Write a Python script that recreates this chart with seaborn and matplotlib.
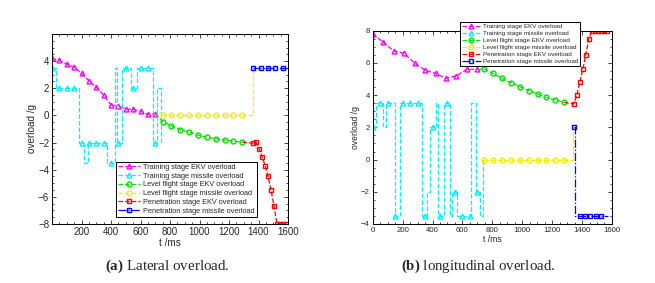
import matplotlib
matplotlib.use("Agg")
import matplotlib.pyplot as plt
from matplotlib.lines import Line2D
from matplotlib.ticker import MultipleLocator
import seaborn as sns

# -------------------------
# (a) lateral overload
# -------------------------
lat_train_ekv_t = [0, 50, 100, 150, 200, 250, 300, 350, 400, 450, 500, 550, 600, 650, 700]
lat_train_ekv = [4.2, 4.05, 3.78, 3.55, 3.1, 2.55, 2.08, 1.5, 0.78, 0.7, 0.48, 0.45, 0.3, 0.08, 0.12]

lat_train_mis_step_t = [0, 27, 181, 219, 242, 373, 427, 443, 472, 536, 574, 687, 714, 740, 745]
lat_train_mis_step = [3.5, 2, -2, -3.5, -2, -3.5, 3.5, -2, 3.5, 2, 3.5, -2, 2, -2, -2]
lat_train_mis_mark_t = [0, 50, 100, 150, 200, 250, 300, 350, 400, 450, 500, 550, 600, 650, 700]
lat_train_mis_mark = [3.5, 2, 2, 2, -2, -2, -2, -2, -3.5, -2, 3.5, 2, 3.5, 3.5, -2]

lat_level_ekv_t = [750, 810, 870, 930, 990, 1050, 1110, 1170, 1230, 1290]
lat_level_ekv = [-0.45, -0.78, -1.04, -1.24, -1.45, -1.6, -1.72, -1.82, -1.9, -1.97]

lat_level_mis_step_t = [745, 1362, 1365]
lat_level_mis_step = [0, 3.5, 3.5]
lat_level_mis_mark_t = [750, 810, 870, 930, 990, 1050, 1110, 1170, 1230, 1290]
lat_level_mis_mark = [0, 0, 0, 0, 0, 0, 0, 0, 0, 0]

lat_pen_ekv_t = [1365, 1385, 1405, 1425, 1445, 1465, 1485, 1505, 1525, 1545, 1565, 1585]
lat_pen_ekv = [-2.05, -1.98, -2.5, -3.05, -3.7, -4.5, -5.5, -6.65, -8, -8, -8, -8]

lat_pen_mis_step_t = [1365, 1590]
lat_pen_mis_step = [3.5, 3.5]
lat_pen_mis_mark_t = [1365, 1415, 1465, 1515, 1565]
lat_pen_mis_mark = [3.5, 3.5, 3.5, 3.5, 3.5]

# -------------------------
# (b) longitudinal overload
# -------------------------
lon_train_ekv_t = [0, 70, 140, 210, 280, 350, 420, 490, 560, 630, 700]
lon_train_ekv = [7.8, 7.3, 6.75, 6.6, 5.98, 5.55, 5.35, 5.05, 5.2, 5.6, 5.6]

lon_train_mis_step_t = [0, 22, 66, 89, 149, 182, 331, 360, 382, 421, 439, 476, 517, 532, 566, 657, 690, 717, 740, 745]
lon_train_mis_step = [2, 3.5, 2, 3.5, -3.5, 3.5, -3.5, -2, 2, 3.5, -3.5, 3.5, -3.5, -2, -3.5, 3.5, -2, -3.5, 0, 0]
lon_train_mis_mark_t = [0, 50, 100, 150, 200, 250, 300, 350, 400, 450, 500, 550, 600, 650, 700]
lon_train_mis_mark = [2, 3.5, 3.5, -3.5, 3.5, 3.5, 3.5, -3.5, 2, -3.5, 3.5, -2, -3.5, -3.5, -2]

lon_level_ekv_t = [745, 805, 865, 925, 985, 1045, 1105, 1160, 1220, 1280]
lon_level_ekv = [5.62, 5.35, 5.04, 4.77, 4.52, 4.28, 4.07, 3.86, 3.7, 3.55]

lon_level_mis_step_t = [745, 1340, 1345]
lon_level_mis_step = [0, 2, 2]
lon_level_mis_mark_t = [745, 805, 865, 925, 985, 1045, 1105, 1160, 1220, 1280]
lon_level_mis_mark = [0, 0, 0, 0, 0, 0, 0, 0, 0, 0]

lon_pen_ekv_t = [1345, 1365, 1385, 1405, 1425, 1445, 1465, 1485, 1505, 1525, 1545, 1565]
lon_pen_ekv = [3.45, 4.0, 4.8, 5.6, 6.5, 7.5, 8, 8, 8, 8, 8, 8]

lon_pen_mis_step_t = [1345, 1355, 1575]
lon_pen_mis_step = [2, -3.5, -3.5]
lon_pen_mis_mark_t = [1345, 1385, 1420, 1455, 1490, 1525]
lon_pen_mis_mark = [2, -3.5, -3.5, -3.5, -3.5, -3.5]

labels = ["Training stage EKV overload", "Training stage missile overload",
          "Level flight stage EKV overload", "Level flight stage missile overload",
          "Penetration stage EKV overload", "Penetration stage missile overload"]
colors = ["#ff00ff", "#00f0ff", "#00e000", "#f0f000", "#ff0000", "#0000ff"]
markers = ["^", "^", "o", "o", "s", "s"]
styles = ["--", "--", "--", "--", "--", "-."]

LW = 0.9
MS = 3.5
MEW = 1.0

sns.set_theme(style="ticks")
plt.rcParams["font.family"] = ["Liberation Sans", "DejaVu Sans"]
plt.rcParams["mathtext.fontset"] = "custom"
plt.rcParams["mathtext.rm"] = "Liberation Serif"
plt.rcParams["mathtext.bf"] = "Liberation Serif:bold"


def smooth(ax, t, v, i, prev=None):
    # EKV curves: dashed line with a marker on every sample
    every = list(range(len(t)))
    if prev is not None:
        t = [prev[0]] + list(t)
        v = [prev[1]] + list(v)
        every = list(range(1, len(t)))
    sns.lineplot(x=t, y=v, ax=ax, color=colors[i], linestyle=styles[i], lw=LW,
                 marker=markers[i], markersize=MS, markerfacecolor="none",
                 markeredgecolor=colors[i], markeredgewidth=MEW, markevery=every,
                 sort=False, estimator=None)


def stairs(ax, st, sv, mt, mv, i):
    # missile curves: stairs line, markers only on the sampled points
    sns.lineplot(x=st, y=sv, ax=ax, color=colors[i], linestyle=styles[i], lw=LW,
                 drawstyle="steps-post", sort=False, estimator=None)
    sns.lineplot(x=mt, y=mv, ax=ax, color=colors[i], linestyle="none",
                 marker=markers[i], markersize=MS, markerfacecolor="none",
                 markeredgecolor=colors[i], markeredgewidth=MEW,
                 sort=False, estimator=None)


def style_axes(ax, tick_fs, label_fs):
    ax.set_xlim(0, 1600)
    ax.tick_params(which="both", direction="in", top=True, right=True,
                   labelsize=tick_fs, pad=2, width=0.6)
    ax.tick_params(which="major", length=3)
    ax.tick_params(which="minor", length=1.5)
    ax.xaxis.set_minor_locator(MultipleLocator(50))
    ax.yaxis.set_minor_locator(MultipleLocator(0.5))
    for s in ax.spines.values():
        s.set_linewidth(0.7)
        s.set_color("black")
    ax.set_xlabel("t /ms", fontsize=label_fs, labelpad=1)
    ax.set_ylabel("overload /g", fontsize=label_fs, labelpad=1)


handles = [Line2D([], [], color=colors[i], linestyle=styles[i], lw=LW, marker=markers[i],
                  markersize=MS, markerfacecolor="none", markeredgecolor=colors[i],
                  markeredgewidth=MEW) for i in range(6)]

fig = plt.figure(figsize=(6.55, 2.83), dpi=100)
ax1 = fig.add_axes([0.0794, 0.2085, 0.3603, 0.6714])
ax2 = fig.add_axes([0.569, 0.2085, 0.3653, 0.683])

# ---- left panel
smooth(ax1, lat_train_ekv_t, lat_train_ekv, 0)
stairs(ax1, lat_train_mis_step_t, lat_train_mis_step, lat_train_mis_mark_t, lat_train_mis_mark, 1)
smooth(ax1, lat_level_ekv_t, lat_level_ekv, 2, prev=(lat_train_ekv_t[-1], lat_train_ekv[-1]))
stairs(ax1, lat_level_mis_step_t, lat_level_mis_step, lat_level_mis_mark_t, lat_level_mis_mark, 3)
smooth(ax1, lat_pen_ekv_t, lat_pen_ekv, 4, prev=(lat_level_ekv_t[-1], lat_level_ekv[-1]))
stairs(ax1, lat_pen_mis_step_t, lat_pen_mis_step, lat_pen_mis_mark_t, lat_pen_mis_mark, 5)
style_axes(ax1, 7, 7.2)
ax1.set_ylim(-8, 6)
ax1.set_yticks([-8, -6, -4, -2, 0, 2, 4])
ax1.set_xticks([200, 400, 600, 800, 1000, 1200, 1400, 1600])
ax1.legend(handles, labels, loc="lower left", bbox_to_anchor=(116 / 655, 1 - 217 / 283),
           bbox_transform=fig.transFigure, fontsize=5.3, frameon=True, fancybox=False,
           edgecolor="black", framealpha=1, handlelength=3, handletextpad=0.4,
           borderpad=0.3, labelspacing=0.22, borderaxespad=0, numpoints=1)
ax1.get_legend().get_frame().set_linewidth(0.7)

# ---- right panel
smooth(ax2, lon_train_ekv_t, lon_train_ekv, 0)
stairs(ax2, lon_train_mis_step_t, lon_train_mis_step, lon_train_mis_mark_t, lon_train_mis_mark, 1)
smooth(ax2, lon_level_ekv_t, lon_level_ekv, 2, prev=(lon_train_ekv_t[-1], lon_train_ekv[-1]))
stairs(ax2, lon_level_mis_step_t, lon_level_mis_step, lon_level_mis_mark_t, lon_level_mis_mark, 3)
smooth(ax2, lon_pen_ekv_t, lon_pen_ekv, 4, prev=(lon_level_ekv_t[-1], lon_level_ekv[-1]))
stairs(ax2, lon_pen_mis_step_t, lon_pen_mis_step, lon_pen_mis_mark_t, lon_pen_mis_mark, 5)
style_axes(ax2, 5.6, 6.2)
ax2.set_ylim(-4, 8)
ax2.set_yticks([-4, -2, 0, 2, 4, 6, 8])
ax2.set_xticks([0, 200, 400, 600, 800, 1000, 1200, 1400, 1600])
ax2.legend(handles, labels, loc="lower left", bbox_to_anchor=(460 / 655, 1 - 65.7 / 283),
           bbox_transform=fig.transFigure, fontsize=4.5, frameon=True, fancybox=False,
           edgecolor="black", framealpha=1, handlelength=3, handletextpad=0.4,
           borderpad=0.3, labelspacing=0.25, borderaxespad=0, numpoints=1)
ax2.get_legend().get_frame().set_linewidth(0.7)

# captions
fig.text(167 / 655, 1 - 266 / 283, r"$\mathbf{(a)}$ Lateral overload.",
         family="Liberation Serif", fontsize=10.8, ha="center", va="center")
fig.text(478 / 655, 1 - 266 / 283, r"$\mathbf{(b)}$ longitudinal overload.",
         family="Liberation Serif", fontsize=10.7, ha="center", va="center")

fig.savefig("out.png", dpi=100, facecolor="white")
